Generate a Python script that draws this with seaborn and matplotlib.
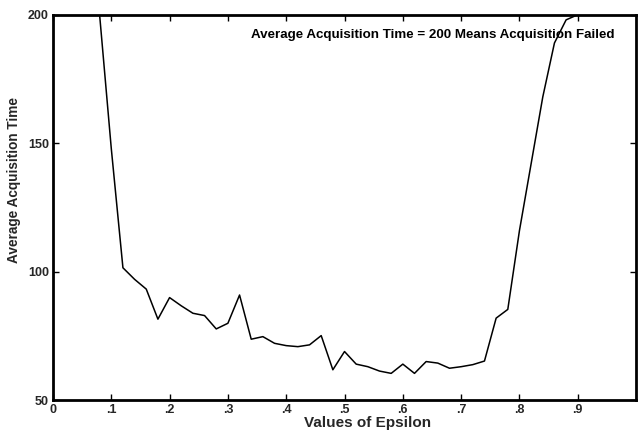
import numpy as np
import pandas as pd
import matplotlib
matplotlib.use("Agg")
import matplotlib.pyplot as plt
import seaborn as sns

# Epsilon sweep and the mean acquisition time measured at each value
epsilon = [0.00, 0.02, 0.04, 0.06, 0.08, 0.10, 0.12, 0.14, 0.16, 0.18,
           0.20, 0.22, 0.24, 0.26, 0.28, 0.30, 0.32, 0.34, 0.36, 0.38,
           0.40, 0.42, 0.44, 0.46, 0.48, 0.50, 0.52, 0.54, 0.56, 0.58,
           0.60, 0.62, 0.64, 0.66, 0.68, 0.70, 0.72, 0.74, 0.76, 0.78,
           0.80, 0.82, 0.84, 0.86, 0.88, 0.90, 0.92, 0.94, 0.96, 0.98, 1.00]
acq_time = [200, 200, 200, 200, 200, 148, 101.5, 97, 93.2, 81.5,
            89.9, 86.7, 83.8, 82.9, 77.7, 79.9, 90.9, 73.7, 74.7, 72.1,
            71.2, 70.8, 71.5, 75.1, 61.8, 68.9, 64.0, 63.0, 61.3, 60.4,
            64.0, 60.4, 65.0, 64.4, 62.4, 63.0, 63.8, 65.2, 81.9, 85.3,
            116, 142, 168, 189, 198, 200, 200, 200, 200, 200, 200]

x_ticks = [0, 0.1, 0.2, 0.3, 0.4, 0.5, 0.6, 0.7, 0.8, 0.9]
x_tick_labels = ["0", ".1", ".2", ".3", ".4", ".5", ".6", ".7", ".8", ".9"]
y_ticks = [50, 100, 150, 200]
y_tick_labels = ["50", "100", "150", "200"]

df = pd.DataFrame({"epsilon": epsilon, "time": acq_time})

sns.set_style("ticks")
plt.rcParams["font.family"] = ["Liberation Sans", "DejaVu Sans"]

fig = plt.figure(figsize=(6.38, 4.33), dpi=100)
ax = fig.add_axes([0.083, 0.076, 0.914, 0.890])

sns.lineplot(data=df, x="epsilon", y="time", color="black", linewidth=1.1, ax=ax)

ax.set_xlim(0, 1)
ax.set_ylim(50, 200)
ax.set_xticks(x_ticks)
ax.set_xticklabels(x_tick_labels, fontsize=9, fontweight="bold")
ax.set_yticks(y_ticks)
ax.set_yticklabels(y_tick_labels, fontsize=9, fontweight="bold")
ax.tick_params(direction="in", length=4, width=1, top=True, right=True,
               color="black", pad=3)

for side in ["left", "right", "top", "bottom"]:
    ax.spines[side].set_visible(True)
    ax.spines[side].set_linewidth(2)
    ax.spines[side].set_color("black")

ax.set_xlabel("Values of Epsilon", fontsize=11, fontweight="bold")
ax.set_ylabel("Average Acquisition Time", fontsize=9.8, fontweight="bold")
ax.xaxis.set_label_coords(0.54, -0.04)
ax.yaxis.set_label_coords(-0.055, 0.57)

ax.text(0.963, 0.947, "Average Acquisition Time = 200 Means Acquisition Failed",
        transform=ax.transAxes, ha="right", va="center", fontsize=9.6,
        fontweight="bold", color="black")

fig.savefig("out.png", dpi=100)
